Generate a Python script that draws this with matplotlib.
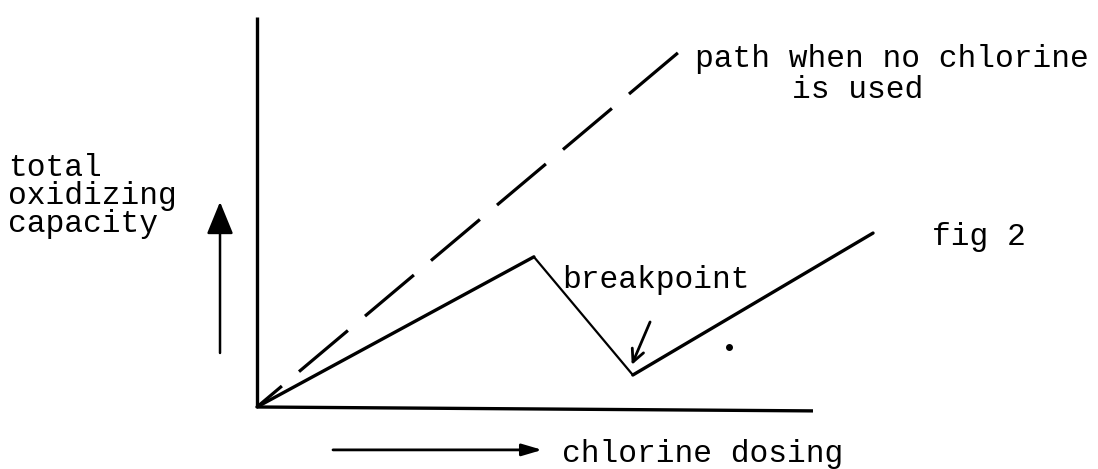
import matplotlib
matplotlib.use("Agg")
import matplotlib.pyplot as plt

# --- data (dose units along x, oxidizing capacity along y) ---
axis_x = [0.0, 10.0]
axis_y_base = [0.0, -0.10]
yaxis_top = 10.0

chlorinated_x = [0.0, 4.98, 6.76, 11.08]
chlorinated_y = [0.0, 3.85, 0.82, 4.46]

no_chlorine_x = [0.0, 7.57]
no_chlorine_y = [0.0, 9.08]

stray_dot = (8.49, 1.54)

ylabel_lines = ["total", "oxidizing", "capacity"]
no_chlorine_label = ["path when no chlorine", "is used"]
breakpoint_label = "breakpoint"
xlabel = "chlorine dosing"
fig_label = "fig 2"

FONT = "Liberation Mono"
FS = 22.5

fig = plt.figure(figsize=(10.98, 4.69), dpi=100)
ax = fig.add_axes([0, 0, 1, 1])
ax.set_xlim(-4.622, 15.126)
ax.set_ylim(-1.590, 10.436)
ax.axis("off")

# axes drawn by hand
ax.plot(axis_x, axis_y_base, color="black", lw=2.4, solid_capstyle="butt")
ax.plot([0, 0], [0, yaxis_top], color="black", lw=2.4, solid_capstyle="butt")

# dashed path (dash pattern starts at the upper end)
ax.plot(no_chlorine_x[::-1], no_chlorine_y[::-1], color="black", lw=2.3,
        dashes=(20.0, 7.0), dash_capstyle="butt")

# solid breakpoint curve, the falling leg is thinner in the original
ax.plot(chlorinated_x[:2], chlorinated_y[:2], color="black", lw=2.4, solid_capstyle="round")
ax.plot(chlorinated_x[1:3], chlorinated_y[1:3], color="black", lw=1.6, solid_capstyle="round")
ax.plot(chlorinated_x[2:], chlorinated_y[2:], color="black", lw=2.4, solid_capstyle="round")

ax.plot(*stray_dot, "o", color="black", ms=4)

# arrows
ax.annotate("", xy=(-0.665, 5.26), xytext=(-0.665, 1.385),
            arrowprops=dict(arrowstyle="-|>,head_length=1.0,head_width=0.41",
                            mutation_scale=20, color="black", lw=1.8,
                            shrinkA=0, shrinkB=0))
ax.annotate("", xy=(5.13, -1.10), xytext=(1.367, -1.10),
            arrowprops=dict(arrowstyle="-|>,head_length=0.61,head_width=0.18",
                            mutation_scale=20, color="black", lw=2.0,
                            shrinkA=0, shrinkB=0))
ax.annotate("", xy=(6.74, 1.08), xytext=(7.07, 2.18),
            arrowprops=dict(arrowstyle="->,head_length=0.45,head_width=0.22",
                            mutation_scale=20, color="black", lw=2.0,
                            shrinkA=0, shrinkB=0))

# text
text_kw = dict(family=FONT, fontsize=FS, color="black", ha="left")
# multi-line label: baseline alignment refers to the last line
ax.text(-4.48, 4.49, "\n".join(ylabel_lines), va="baseline",
        linespacing=0.92, **text_kw)
ax.text(7.88, 8.72, no_chlorine_label[0], va="baseline", **text_kw)
ax.text(9.62, 7.92, no_chlorine_label[1], va="baseline", **text_kw)
ax.text(12.14, 4.15, fig_label, va="baseline", **text_kw)
ax.text(5.49, 3.05, breakpoint_label, va="baseline", **text_kw)
ax.text(5.49, -1.41, xlabel, va="baseline", **text_kw)

fig.savefig("out.png", dpi=100, facecolor="white")
